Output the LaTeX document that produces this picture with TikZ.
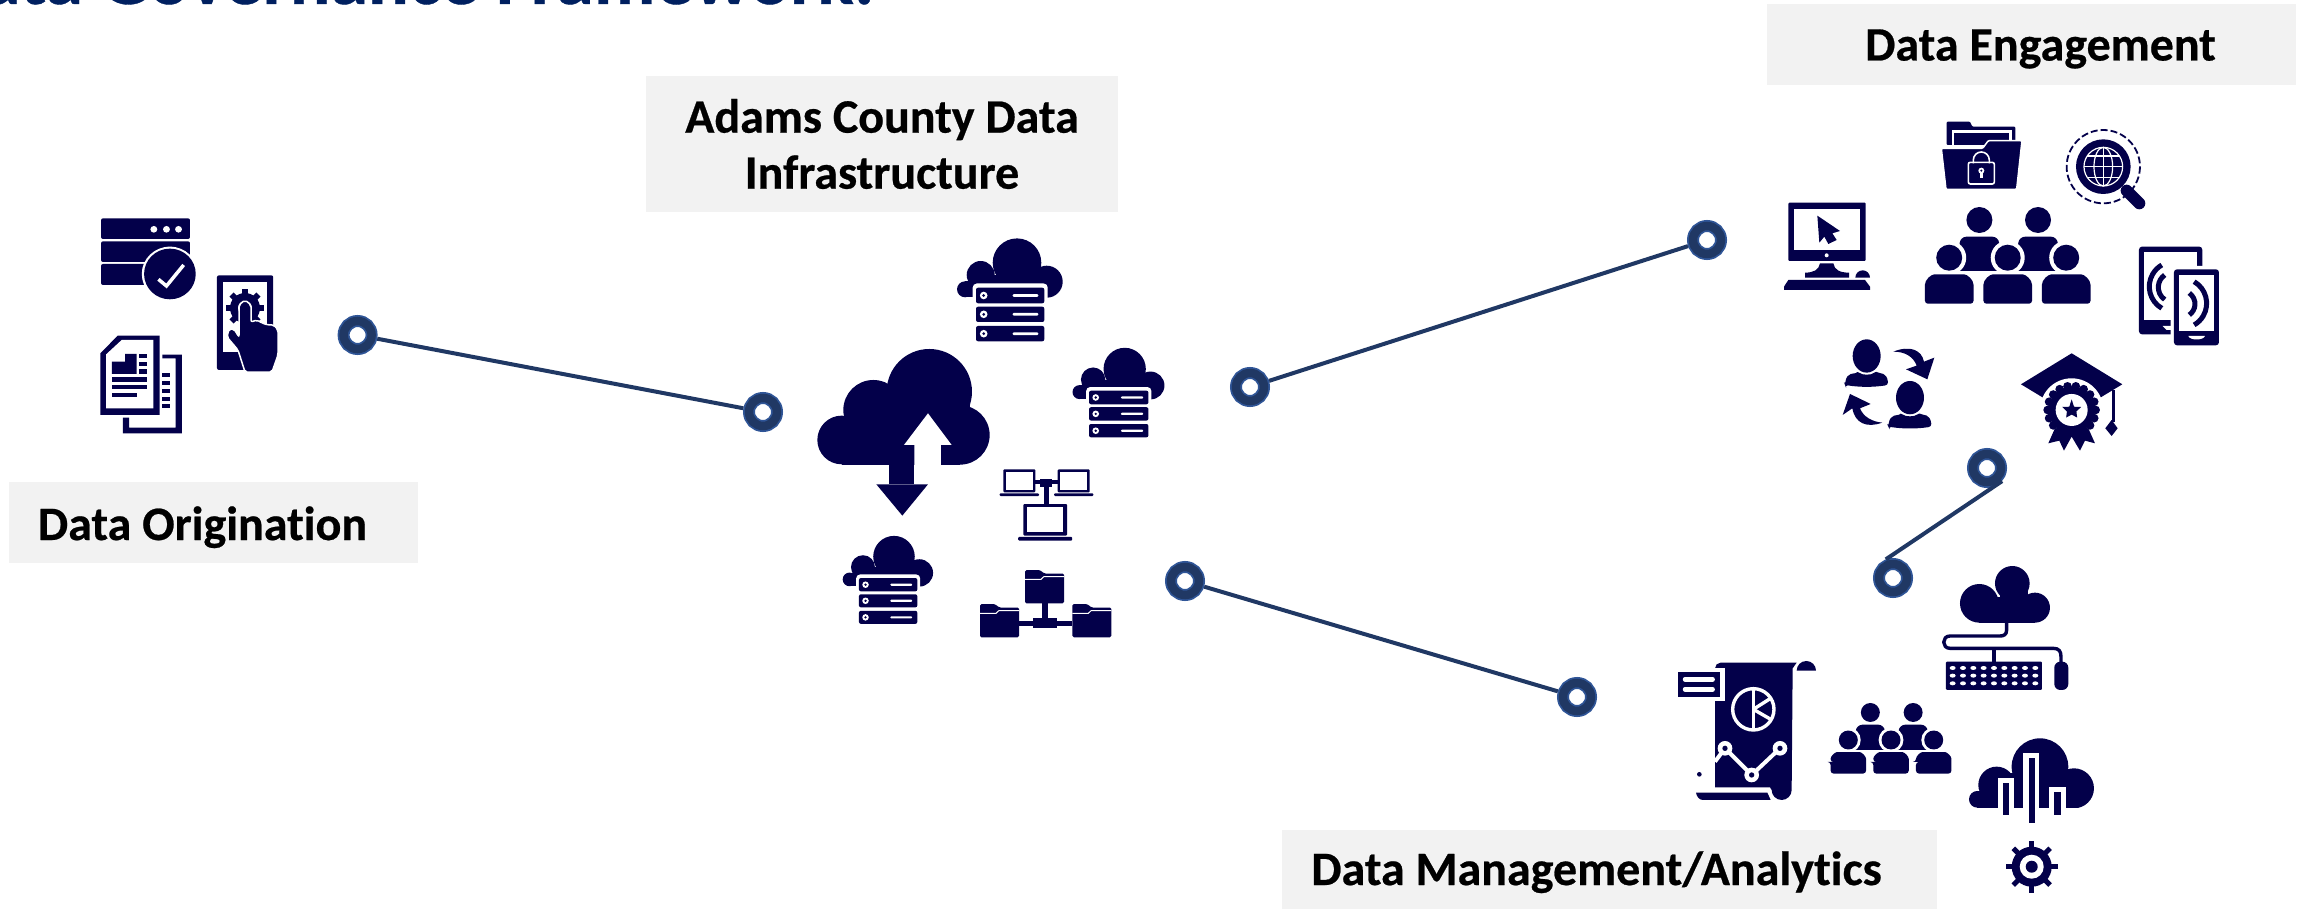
\documentclass[tikz,border=0pt]{standalone}
\usepackage{fontspec}
\setmainfont[Ligatures=NoCommon,BoldFeatures={FakeBold=0.5}]{Carlito}
\definecolor{ink}{HTML}{03004A}
\definecolor{ringdark}{HTML}{203864}
\definecolor{ringedge}{HTML}{2F5597}
\definecolor{boxgray}{HTML}{F2F2F2}
\definecolor{titleblue}{HTML}{002060}
\tikzset{
  z1/.style={xscale=0.574,yscale=0.3333},
  z2/.style={shift={(780,200)},scale=0.3333},
  z3/.style={shift={(1740,100)},scale=0.3333},
  z4/.style={shift={(1640,540)},scale=0.3333},
  labelbox/.style={fill=boxgray,inner sep=0pt,outer sep=0pt,align=center,text=black,
    font=\fontsize{48}{56}\selectfont\bfseries},
  ringnode/.style={circle,inner sep=0pt,minimum size=28pt,outer sep=6pt,fill=white,
    draw=ringedge,line width=12pt,postaction={draw=ringdark,line width=8.5pt,fill=none}},
  link/.style={draw=ringdark,line width=4pt},
  pics/cloudserver/.style={code={
    \fill[ink] (7,-27.3) circle[radius=24.3];
    \fill[ink] (-29.3,-15) circle[radius=14];
    \fill[ink] (-45,-.7) circle[radius=8];
    \fill[ink] (36.7,-8.3) circle[radius=16];
    \fill[ink] (-29,-15) rectangle (36.7,7.7);
    \fill[ink] (-45,-8.7) rectangle (-29,7.3);
    \fill[white,rounded corners=4pt] (-37.3,-6.5) rectangle (37.7,55);
    \foreach \yy/\hh in {-2.3/13.3,16.7/32,36/51.3}{
      \fill[ink,rounded corners=2pt] (-34,\yy) rectangle (34.3,\hh);
    }
    \foreach \yy in {5.5,24.3,43.7}{
      \fill[white] (-26.3,\yy) circle[radius=3.8];
      \fill[ink] (-26.3,\yy) circle[radius=1.5];
      \fill[white,rounded corners=1pt] (2.7,\yy-1.3) rectangle (28.3,\yy+1.3);
    }
  }},
  pics/peoplegroup/.style={code={
    \fill[ink] (-28.3,-37.7) circle[radius=13];
    \fill[ink] (30.3,-37.7) circle[radius=13];
    \foreach \xx in {-28.3,30.3}{
      \fill[ink,rounded corners=6pt] (\xx-23,13.3) -- (\xx-19,-21) -- (\xx+19,-21) -- (\xx+23,13.3) -- cycle;
      \fill[ink] (\xx-23,13.3) rectangle (\xx+23,6);
    }
    \foreach \xx in {-58.5,0,58.5}{
      \fill[white] (\xx,0) circle[radius=17];
      \fill[ink] (\xx,0) circle[radius=13];
      \fill[white] (\xx-27,13.3) rectangle (\xx+27,50);
      \fill[ink,rounded corners=3pt] (\xx-24.3,30) -- (\xx-24.3,46) -- (\xx+24.3,46) -- (\xx+24.3,30) .. controls (\xx+24.3,22) and (\xx+18,16.7) .. (\xx+12,16.7) -- (\xx-12,16.7) .. controls (\xx-18,16.7) and (\xx-24.3,22) .. cycle;
    }
  }},
  pics/folder/.style={code={
    \fill[ink,rounded corners=1.5pt] (0,0) -- (15,0) -- (19,3.5) -- (39,3.5) -- (39,33.3) -- (0,33.3) -- cycle;
    \draw[white,line width=1pt] (0,9.3) -- (16,9.3) -- (19,6.5) -- (39,6.5);
  }},
  pics/laptop/.style={code={
    \fill[ink,rounded corners=1pt] (0,0) rectangle (32,23);
    \fill[white] (2.7,2.5) rectangle (29.3,20.5);
    \fill[ink,rounded corners=1pt] (-3.7,24) rectangle (35.7,26.7);
  }},
}
\begin{document}
\begin{tikzpicture}[x=1pt,y=-1pt]
\useasboundingbox (0,0) rectangle (2305,909);
% title, cut by the top edge of the page
\node[anchor=base east,inner sep=0pt,text=titleblue,font=\fontsize{76}{90}\selectfont\bfseries] (title) at (875,4) {Data Governance Framework:};
% labels
\node[labelbox,minimum width=409pt,minimum height=81pt] (origin) at (213.5,522.5) {\rule[-9pt]{0pt}{53pt}Data Origination\hspace*{22pt}};
\node[labelbox,minimum width=472pt,minimum height=136pt] (infra) at (882,144) {Adams County Data\\Infrastructure};
\node[labelbox,minimum width=529pt,minimum height=81pt] (engage) at (2031.5,44.5) {\rule[-9pt]{0pt}{50pt}\hspace*{18pt}Data Engagement};
\node[labelbox,minimum width=655pt,minimum height=79pt] (manage) at (1609.5,869.5) {\rule[-9pt]{0pt}{49pt}Data Management/Analytics\hspace*{26pt}};
% rings
\node[ringnode] (c1) at (357.6,335) {};
\node[ringnode] (c2) at (763,412) {};
\node[ringnode] (c3) at (1250,387) {};
\node[ringnode] (c4) at (1185,581) {};
\node[ringnode] (c5) at (1577,697) {};
\node[ringnode] (c6) at (1707,240) {};
\node[ringnode] (c7) at (1987,468) {};
\node[ringnode] (c8) at (1893,578) {};
\draw[link] (c1) -- (c2);
\draw[link] (c3) -- (c6);
\draw[link] (c4) -- (c5);
\draw[link] (c7.-41) -- (c8.111);
% ---------- origination icons
\begin{scope}[z1]
  \foreach \a/\b in {655/717,724/786,792/855}{\fill[ink,rounded corners=2pt] (176,\a) rectangle (331,\b);}
  \foreach \a in {268,290,311}{\fill[white] (\a,688) ellipse[x radius=6,y radius=10];}
  \fill[white] (296,822) ellipse[x radius=49,y radius=82];
  \fill[ink] (296,822) ellipse[x radius=45,y radius=76];
  \draw[white,line width=3.5pt] (276,838) -- (290,858) -- (320,795);
  % phone
  \fill[ink,rounded corners=2pt] (378,826) rectangle (476,1110);
  \fill[white] (389,846) rectangle (465,1055);
  % documents, back sheet
  \fill[ink] (283,1064) -- (317,1064) -- (317,1300) -- (214,1300) -- (214,1253) -- (225,1253) -- (225,1283) -- (306,1283) -- (306,1075) -- (283,1075) -- cycle;
  \foreach \a in {1120,1143,1167,1190,1213}{\fill[ink] (283,\a) rectangle (296,\a+12);}
  % documents, front sheet
  \fill[ink] (175,1060) -- (205,1007) -- (278,1007) -- (278,1245) -- (175,1245) -- cycle;
  \fill[white] (185,1063) -- (212,1020) -- (267,1020) -- (267,1225) -- (185,1225) -- cycle;
  \fill[ink] (195,1085) -- (218,1085) -- (218,1062) -- (238,1062) -- (238,1122) -- (195,1122) -- cycle;
  \foreach \a in {1062,1085,1108}{\fill[ink] (243,\a) rectangle (256,\a+13);}
  \fill[ink] (195,1132) rectangle (256,1145);
  \fill[ink] (195,1155) rectangle (256,1168);
  \fill[ink] (195,1178) rectangle (238,1190);
\end{scope}
\fill[ink] (245,308) circle[radius=15];
\foreach \a in {0,45,...,315}{\fill[ink,shift={(245,308)},rotate=\a] (-3,-19) rectangle (3,0);}
\fill[white] (245,308) circle[radius=7];
\filldraw[fill=ink,draw=white,line width=1.5pt,rounded corners=2pt] (245,372) -- (238,350) -- (227,337) -- (229,329) -- (234,329) -- (239,337) -- (239,305) -- (245,300) -- (251,305) -- (251,322) -- (257,320) -- (262,323) -- (268,325) -- (274,325) -- (278,330) -- (278,355) -- (272,372) -- cycle;
% ---------- infrastructure icons
\begin{scope}[z2]
  \fill[ink] (185,720) circle[radius=73];
  \fill[ink] (280,630) circle[radius=90];
  \fill[ink] (448,575) circle[radius=128];
  \fill[ink] (540,705) circle[radius=89];
  \fill[ink] (185,650) rectangle (540,794);
  \fill[ink] (330,575) rectangle (570,700);
  \fill[white] (444,640) -- (515,735) -- (483,735) -- (483,800) -- (403,800) -- (403,735) -- (372,735) -- cycle;
  \fill[ink] (327,790) rectangle (403,853);
  \fill[ink] (289,853) -- (444,853) -- (367,947) -- cycle;
\end{scope}
\pic at (1010,290) {cloudserver};
\pic[scale=.87] at (1118.6,392.7) {cloudserver};
\pic[scale=.855] at (888,580) {cloudserver};
\begin{scope}[z2]
  \fill[ink] (765,840) rectangle (833,852);
  \fill[ink] (780,838) rectangle (817,860);
  \fill[ink] (793,860) rectangle (806,912);
\end{scope}
\pic at (1003.3,469.3) {laptop};
\pic at (1057.7,469.3) {laptop};
\pic[scale=1.37] at (1023.3,504) {laptop};
\pic at (1025,570) {folder};
\pic at (980,604) {folder};
\pic at (1072.3,604) {folder};
\begin{scope}[z2]
  \fill[ink] (717,1262) rectangle (877,1277);
  \fill[ink] (758,1255) rectangle (830,1285);
  \fill[ink] (787,1210) rectangle (804,1255);
\end{scope}
% ---------- engagement icons
\begin{scope}[z3]
  % monitor
  \fill[ink,rounded corners=1pt] (145,308) rectangle (377,483);
  \fill[white] (163,327) rectangle (359,449);
  \fill[white] (260,466) circle[radius=6];
  \fill[ink] (240,490) -- (280,490) .. controls (283,510) and (300,518) .. (327,518) -- (327,533) -- (195,533) -- (195,518) .. controls (220,518) and (237,510) .. cycle;
  \fill[ink] (145,540) -- (375,540) -- (390,560) -- (390,570) -- (132,570) -- (132,560) -- cycle;
  \fill[ink] (346,533) arc[start angle=180,end angle=360,radius=22] -- cycle;
  \fill[ink] (232,347) -- (300,393) -- (277,400) -- (290,420) -- (265,432) -- (253,410) -- (238,428) -- cycle;
  % folder with lock
  \fill[ink,rounded corners=1pt] (620,65) -- (690,65) -- (697,80) -- (826,80) -- (826,135) -- (620,135) -- cycle;
  \fill[white] (635,90) rectangle (815,135);
  \fill[ink] (642,98) rectangle (806,135);
  \filldraw[fill=ink,draw=white,line width=1.5pt,rounded corners=1pt] (604,145) -- (728,145) -- (745,122) -- (846,122) -- (830,268) -- (618,268) -- cycle;
  \draw[white,line width=1.6pt] (700,190) -- (700,180) arc[start angle=180,end angle=360,radius=24] -- (748,190);
  \draw[white,line width=1.6pt,rounded corners=2pt] (685,187) rectangle (763,252);
  \fill[white] (724,212) circle[radius=9];
  \fill[white] (720,212) rectangle (728,235);
  \fill[ink] (724,212) circle[radius=3.5];
  % magnifier
  \draw[ink,line width=1.8pt,dash pattern=on 7pt off 3pt] (1090,200) circle[radius=110];
  \fill[white] (1150,250) circle[radius=22];
  \draw[ink,line width=12pt,line cap=round] (1160,272) -- (1198,310);
  \fill[ink] (1090,200) circle[radius=82];
  \draw[white,line width=1.2pt] (1090,200) circle[radius=58];
  \draw[white,line width=1.2pt] (1090,200) ellipse[x radius=28,y radius=58];
  \draw[white,line width=1.2pt] (1090,142) -- (1090,258) (1032,200) -- (1148,200);
  \draw[white,line width=1.2pt] (1042,168) -- (1138,168) (1042,232) -- (1138,232);
  % phones
  \fill[ink,rounded corners=3pt] (1197,440) rectangle (1387,703);
  \fill[white] (1213,455) rectangle (1371,660);
  \fill[white] (1371,500) rectangle (1400,660);
  \fill[white] (1268,678) -- (1295,678) -- (1295,690) -- (1280,690) -- cycle;
  \fill[white,rounded corners=3pt] (1292,498) rectangle (1447,746);
  \fill[ink,rounded corners=3pt] (1302,508) rectangle (1437,736);
  \fill[white] (1317,525) rectangle (1423,692);
  \fill[white] (1345,708) -- (1395,708) .. controls (1390,722) and (1350,722) .. cycle;
  \draw[ink,line width=5pt] (1303,560) ++(120:75) arc[start angle=120,end angle=240,radius=75];
  \draw[ink,line width=5pt] (1300,562) ++(125:45) arc[start angle=125,end angle=235,radius=45];
  \draw[ink,line width=5pt] (1325,610) ++(-60:75) arc[start angle=-60,end angle=60,radius=75];
  \draw[ink,line width=5pt] (1325,612) ++(-55:40) arc[start angle=-55,end angle=55,radius=40];
  % people exchange
  \fill[ink] (380,768) ellipse[x radius=42,y radius=50];
  \fill[ink] (510,893) ellipse[x radius=42,y radius=50];
  \fill[ink,rounded corners=3pt] (315,855) .. controls (320,815) and (345,822) .. (352,812) .. controls (365,826) and (395,826) .. (408,812) .. controls (420,822) and (440,815) .. (445,855) .. controls (400,862) and (360,862) .. cycle;
  \fill[ink,rounded corners=3pt] (445,980) .. controls (450,940) and (475,947) .. (482,937) .. controls (495,951) and (525,951) .. (538,937) .. controls (550,947) and (570,940) .. (575,980) .. controls (530,987) and (490,987) .. cycle;
  \fill[ink] (460,755) .. controls (510,735) and (545,750) .. (552,785) -- (583,773) -- (562,838) -- (498,808) -- (530,797) .. controls (520,770) and (495,755) .. cycle;
  \fill[ink] (427,968) .. controls (380,985) and (345,970) .. (337,925) -- (308,945) -- (330,882) -- (392,912) -- (360,925) .. controls (370,950) and (395,965) .. cycle;
  % graduation cap
  \fill[ink] (995,760) -- (1147,853) -- (995,945) -- (843,853) -- cycle;
  \fill[ink] (1115,870) rectangle (1125,965);
  \fill[ink] (1115,960) -- (1133,985) -- (1115,1008) -- (1096,985) -- cycle;
  \fill[white] (995,930) circle[radius=95];
  \fill[ink] (945,985) -- (925,1030) -- (958,1022) -- (972,1052) -- (995,1010) -- (1020,1052) -- (1035,1022) -- (1065,1030) -- (1045,985) -- cycle;
  \begin{scope}[shift={(995,930)}]
    \fill[ink] (0,0) circle[radius=70];
    \foreach \a in {0,20,...,340}{\fill[ink] (\a:72) circle[radius=13];}
    \fill[white] (0,0) circle[radius=48];
    \fill[ink] (-90:32) -- (-54:12) -- (-18:30) -- (18:15) -- (54:28) -- (90:14) -- (126:28) -- (162:15) -- (198:30) -- (234:12) -- cycle;
  \end{scope}
\end{scope}
\pic at (2007.7,257.7) {peoplegroup};
\pic[scale=.73] at (1891,740) {peoplegroup};
% ---------- management icons
\begin{scope}[z4]
  % cloud and keyboard
  \fill[ink] (1117,130) circle[radius=52];
  \fill[ink] (1018,190) circle[radius=58];
  \fill[ink] (1185,203) circle[radius=45];
  \fill[ink] (1018,170) rectangle (1185,248);
  \fill[ink] (1080,130) rectangle (1165,180);
  \draw[ink,line width=3.4pt,line join=round] (1100,247) -- (1100,270) .. controls (1100,285) and (1090,288) .. (1080,288) -- (930,288) .. controls (905,288) and (905,325) .. (930,325) -- (1240,325) .. controls (1258,325) and (1263,335) .. (1263,350) -- (1263,368);
  \draw[ink,line width=3.4pt] (1062,325) -- (1062,368);
  \fill[ink,rounded corners=1pt] (918,365) rectangle (1206,450);
  \foreach \yy in {384,407,430}{\foreach \xx in {938,969,...,1186}{\fill[white] (\xx,\yy) ellipse[x radius=9,y radius=6];}}
  \fill[ink,rounded corners=6pt] (1243,365) rectangle (1285,450);
  % cloud with bars
  \fill[ink] (1200,680) circle[radius=85];
  \fill[ink] (1070,735) circle[radius=55];
  \fill[ink] (1012,778) circle[radius=25];
  \fill[ink] (1302,745) circle[radius=60];
  \fill[ink] (1012,753) rectangle (1302,803);
  \fill[ink] (1070,700) rectangle (1302,770);
  \fill[white] (900,804) rectangle (1400,870);
  \fill[white] (1073,713) rectangle (1122,804);
  \fill[white] (1150,640) rectangle (1198,804);
  \fill[white] (1228,740) rectangle (1277,804);
  \fill[ink] (1090,730) rectangle (1107,825);
  \fill[ink] (1167,655) rectangle (1185,850);
  \fill[ink] (1243,755) rectangle (1262,825);
  % report
  \fill[ink] (225,385) arc[start angle=180,end angle=270,radius=17] -- (470,368) -- (458,385) -- (455,750) arc[start angle=0,end angle=180,radius=30] -- (390,742) -- (225,742) -- cycle;
  \fill[ink] (470,392) arc[start angle=180,end angle=360,radius=29] -- cycle;
  \fill[ink] (168,758) -- (382,758) -- (392,780) -- (188,780) .. controls (178,780) and (170,770) .. cycle;
  \fill[white] (100,385) rectangle (255,483);
  \fill[ink] (115,396) rectangle (240,470);
  \draw[white,line width=4.5pt,line cap=round] (135,418) -- (218,418);
  \draw[white,line width=4.5pt,line cap=round] (135,448) -- (218,448);
  \fill[ink] (178,703) circle[radius=7];
  \draw[white,line width=3.4pt] (340,508) circle[radius=62];
  \draw[white,line width=3.4pt] (340,446) -- (340,570);
  \draw[white,line width=3.4pt] (340,508) -- (392,475);
  \draw[white,line width=3.4pt] (340,508) -- (392,538);
  \draw[white,line width=4pt] (225,665) -- (255,625) -- (335,705) -- (420,625);
  \foreach \xx/\yy in {255/625,335/705,420/625}{\fill[white] (\xx,\yy) circle[radius=22];\fill[ink] (\xx,\yy) circle[radius=8];}
\end{scope}
% small gear
\begin{scope}[shift={(2031.7,866.7)}]
  \fill[ink] (0,0) circle[radius=20];
  \foreach \a in {0,45,...,315}{\fill[ink,rotate=\a] (-2.5,-26) rectangle (2.5,0);}
  \fill[white] (0,0) circle[radius=12];
  \fill[ink] (0,0) circle[radius=6];
\end{scope}
\end{tikzpicture}
\end{document}
